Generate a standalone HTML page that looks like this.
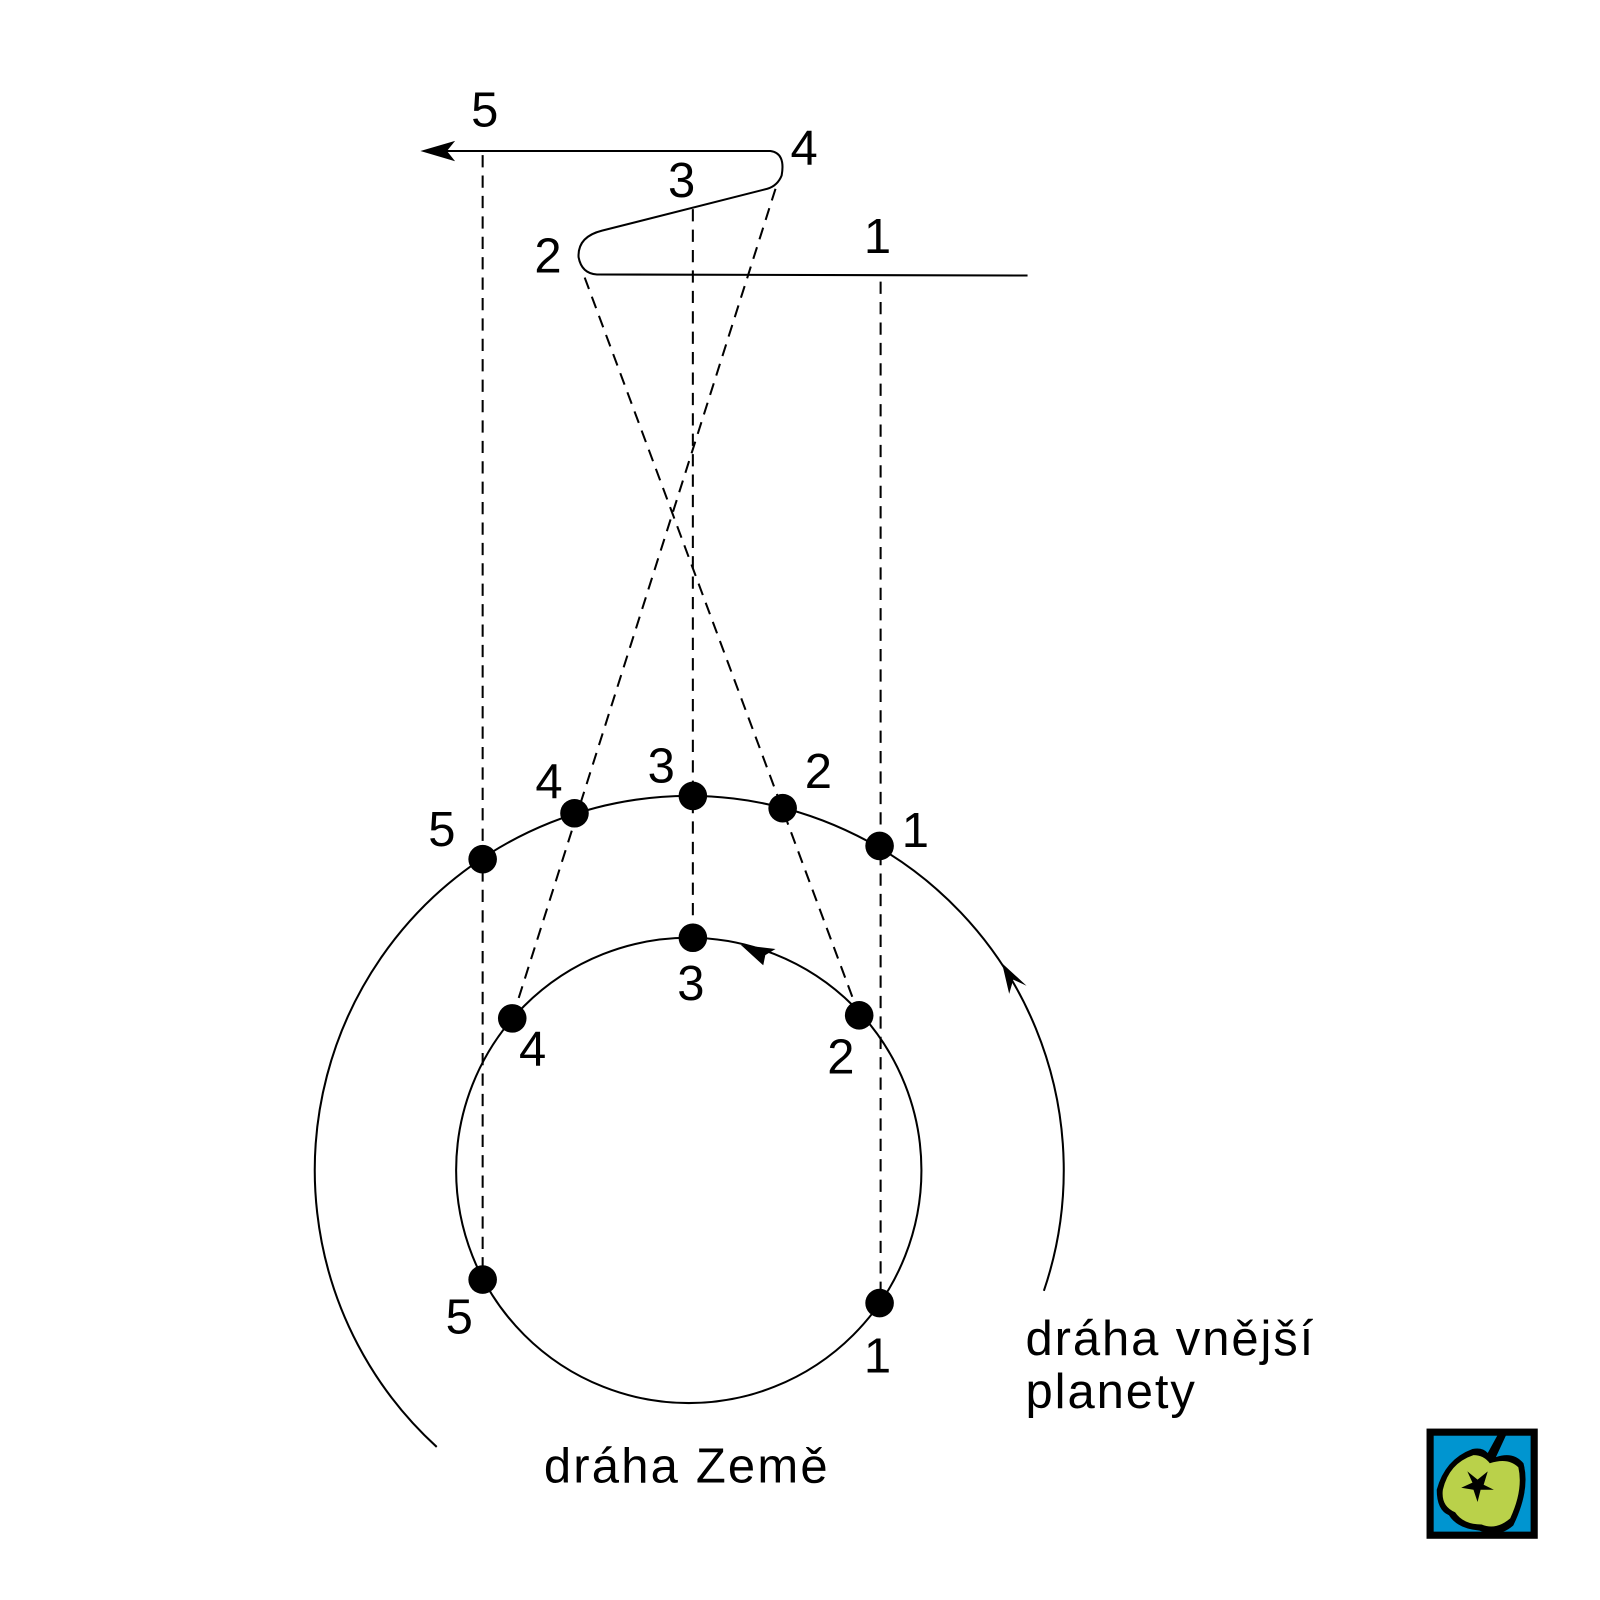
<!DOCTYPE html>
<html><head><meta charset="utf-8"><style>html,body{margin:0;padding:0;background:#fff}svg{display:block}</style></head>
<body>
<svg width="1600" height="1600" viewBox="0 0 1568 1568" xmlns="http://www.w3.org/2000/svg" font-family="Liberation Sans, Arial, sans-serif" font-size="48" fill="#000">
<g fill="none" stroke="#000" stroke-width="2">
<path d="M425 148 L755 148 Q770 150 766 172 Q762 182 752 185 L590 226 Q566 232 567 252 Q570 268 585 269 L1007 270"/>
<path d="M428 1418 A367 367 0 1 1 1023 1265"/>
<circle cx="675" cy="1147" r="228"/>
</g>
<g fill="none" stroke="#000" stroke-width="2" stroke-dasharray="12 8">
<line x1="473" y1="152" x2="473" y2="1254"/>
<line x1="679" y1="205" x2="679" y2="919"/>
<line x1="863" y1="276" x2="863" y2="1277"/>
<line x1="573" y1="272" x2="842" y2="995"/>
<line x1="760" y1="185" x2="502" y2="998"/>
</g>
<path d="M412 148 L446 138 L438 148 L446 158 Z"/>
<path d="M1006 966 L982 944 L989 974 L993 960 Z"/>
<path d="M726 926 L760 930 L750 936 L748 946 Z"/>
<g>
<circle cx="473" cy="842" r="14"/><circle cx="563" cy="797" r="14"/><circle cx="679" cy="780" r="14"/><circle cx="767" cy="792" r="14"/><circle cx="862" cy="829" r="14"/>
<circle cx="679" cy="919" r="14"/><circle cx="842" cy="995" r="14"/><circle cx="502" cy="998" r="14"/><circle cx="473" cy="1254" r="14"/><circle cx="862" cy="1277" r="14"/>
</g>
<g text-anchor="middle">
<text x="475" y="124">5</text><text x="788" y="161">4</text><text x="668" y="193">3</text><text x="537" y="267">2</text><text x="860" y="248">1</text>
<text x="433" y="829">5</text><text x="538" y="782">4</text><text x="648" y="767">3</text><text x="802" y="772">2</text><text x="897" y="830">1</text>
<text x="677" y="980">3</text><text x="522" y="1044">4</text><text x="824" y="1052">2</text><text x="450" y="1307">5</text><text x="860" y="1345">1</text>
</g>
<text x="1005" y="1328" textLength="282">dráha vnější</text>
<text x="1005" y="1380" textLength="166">planety</text>
<text x="533" y="1453" textLength="278">dráha Země</text>
<g transform="translate(1398,1400)">
<rect x="0" y="0" width="109" height="108" fill="#000"/>
<rect x="7" y="7" width="95" height="94" fill="#0095d0"/>
<path d="M10 60 Q18 30 45 20 Q55 18 60 24 L72 2 L80 2 L68 28 Q85 22 95 34 Q102 60 85 95 Q70 108 52 100 Q30 98 22 85 Q10 80 10 60 Z" fill="#000"/>
<path d="M16 60 Q22 34 46 26 Q56 26 62 34 Q80 28 90 38 Q95 60 82 88 Q68 100 54 94 Q36 94 28 82 Q14 76 16 60 Z" fill="#bad14a"/>
<path d="M40 42 L50 50 L60 42 L56 55 L66 60 L53 60 L50 72 L46 60 L34 58 L45 53 Z" fill="#000"/>
</g>
</svg>
</body></html>
